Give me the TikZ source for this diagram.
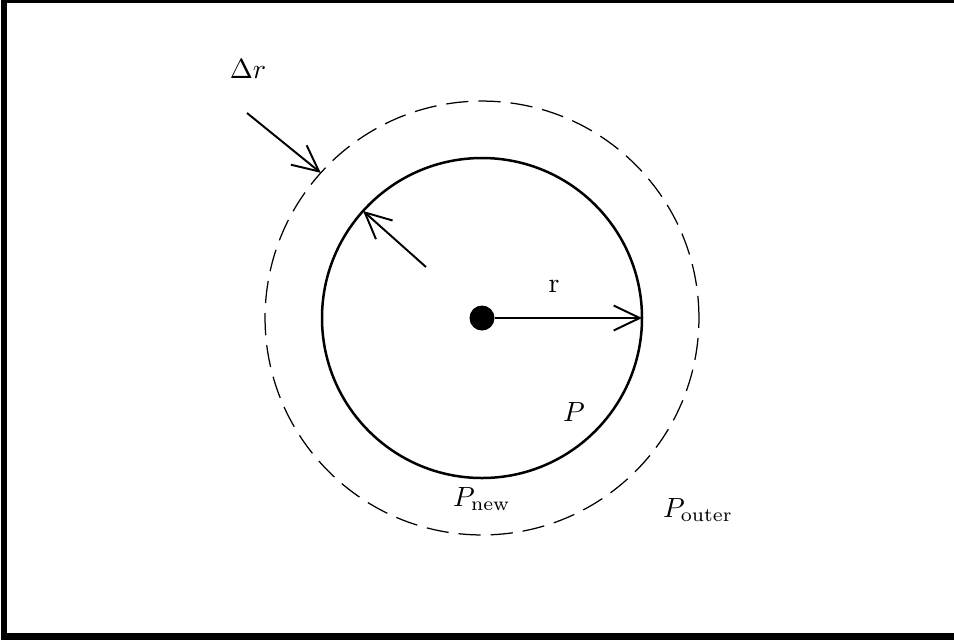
\documentclass[tikz,border=0pt]{standalone}
\usepackage{amsmath,amssymb}
\usepackage{tikz}
\usetikzlibrary{positioning,arrows.meta}
\usepackage{xcolor}

\begin{document}
\begin{tikzpicture}[x=0.36pt,y=-0.36pt,>={Straight Barb[length=9.4pt,width=9pt]},
  dot/.style={circle,fill=black,inner sep=0pt,minimum size=9pt},
  ring/.style={circle,inner sep=0pt,outer sep=0pt}]
\useasboundingbox (0,0) rectangle (954,643);
\draw[line width=2.5pt] (4,0) rectangle (960,636.5);
\node[ring,dashed,dash pattern=on 8pt off 3.6pt,line width=0.45pt,draw,minimum size=156.2pt] (outer) at (482,318) {};
\node[ring,draw,line width=0.9pt,minimum size=115.2pt] (inner) at (482,318) {};
\node[dot] (o) at (482,318) {};
\coordinate (dstart) at (247,113);
\coordinate (istart) at (426,267);
\draw[->,line width=0.7pt] (o) -- (inner.east);
\draw[->,line width=0.7pt] (dstart) -- (outer.138);
\draw[->,line width=0.7pt] (istart) -- (inner.138);
\node (rlab) at (554,286) {r};
\node (drlab) at (248,69) {$\Delta r$};
\node (plab) at (574,412) {$P$};
\node (pnew) at (482,499) {$P_{\mathrm{new}}$};
\node (pout) at (698,510) {$P_{\mathrm{outer}}$};
\end{tikzpicture}
\end{document}
